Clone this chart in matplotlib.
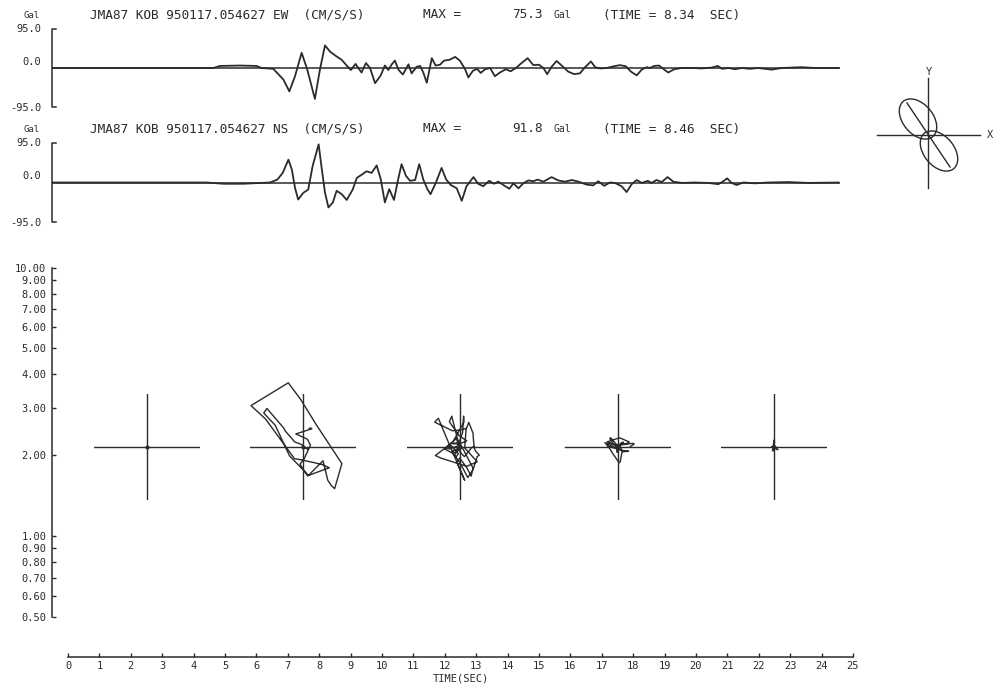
import numpy as np
import matplotlib.pyplot as plt
from matplotlib.patches import Ellipse

INK = '#2b2b2b'
plt.rcParams['font.family'] = 'DejaVu Sans Mono'

# EW acceleration trace (Gal)
ew_t = [0, 5.12, 5.33, 5.96, 6.49, 6.65, 7.02, 7.34, 7.53, 7.71, 7.92, 8.10, 8.34, 8.50,
        8.66, 8.82, 9.03, 9.19, 9.35, 9.48, 9.63, 9.82, 9.96, 10.09, 10.25, 10.43, 10.56,
        10.67, 10.78, 10.88, 10.99, 11.13, 11.31, 11.41, 11.57, 11.68, 11.78, 11.89, 12.05,
        12.17, 12.31, 12.44, 12.61, 12.79, 12.94, 13.10, 13.21, 13.35, 13.49, 13.60, 13.74,
        13.90, 14.05, 14.21, 14.40, 14.55, 14.72, 14.85, 15.09, 15.27, 15.45, 15.59, 15.71,
        15.85, 16.01, 16.17, 16.38, 16.57, 16.75, 16.91, 17.10, 17.23, 17.39, 17.60, 17.81,
        18.02, 18.21, 18.37, 18.55, 18.71, 18.87, 18.97, 19.11, 19.26, 19.39, 19.55, 19.74,
        19.98, 20.29, 20.61, 20.93, 21.12, 21.26, 21.46, 21.67, 21.88, 22.14, 22.41, 22.83,
        23.15, 23.78, 24.21, 24.95]
ew_a = [0, 0, 5, 6, 5, 0, -2, -28, -57, -20, 37, -4, -75.3, -4,
        55, 40, 28, 20, 6, -5, 10, -11, 12, 0, -37, -18, 6,
        -5, 9, 18, -4, -16, 9, -13, 3, 5, -11, -36, 24,
        6, 8, 18, 20, 27, 18, -2, -23, -7, -2, -12, -3,
        0, -20, -11, -3, -8, 0, 9, 24, 7, 8, 0, -15,
        3, 17, 6, -9, -15, -13, 2, 16, 2, -1, 0, 4,
        7, 4, -9, -18, -4, 2, 0, 5, 6, -2, -11, -3,
        0, 0, -1, 1, 5, -2, 0, -3, 0, -2, 0, -4,
        0, 2, 0, 0]

# NS acceleration trace (Gal)
ns_t = [0, 4.90, 5.43, 6.07, 6.92, 7.15, 7.32, 7.50, 7.61, 7.71, 7.81, 7.97, 8.13, 8.27,
        8.46, 8.56, 8.66, 8.77, 8.91, 9.03, 9.19, 9.35, 9.54, 9.67, 9.83, 9.98, 10.14,
        10.30, 10.43, 10.56, 10.70, 10.85, 10.96, 11.09, 11.23, 11.36, 11.52, 11.65, 11.78,
        11.91, 12.01, 12.18, 12.36, 12.50, 12.65, 12.84, 13.00, 13.15, 13.37, 13.52, 13.68,
        13.87, 14.02, 14.16, 14.32, 14.51, 14.64, 14.80, 14.95, 15.11, 15.27, 15.41, 15.59,
        15.85, 16.06, 16.28, 16.49, 16.70, 16.96, 17.17, 17.33, 17.52, 17.70, 17.86, 18.07,
        18.23, 18.39, 18.55, 18.71, 18.90, 19.02, 19.18, 19.34, 19.53, 19.71, 19.98, 20.40,
        20.82, 21.14, 21.30, 21.42, 21.56, 21.72, 21.93, 22.30, 22.73, 23.36, 24.00, 24.95]
ns_a = [0, 0, -3, -3, 0, 7, 23, 55, 31, -13, -41, -25, -17, 40,
        91.8, 32, -24, -60, -48, -20, -28, -42, -17, 11, 19, 27, 23,
        41, 8, -48, -16, -42, 0, 44, 16, 4, 6, 44, 7,
        -16, -28, 0, 35, 8, -6, -14, -44, -9, 13, -3, -9,
        4, -3, 2, -6, -15, -2, -14, -2, 5, 3, 7, 2,
        13, 5, 2, 6, 2, -5, -7, 3, -8, 0, -1, -9,
        -23, -4, 6, -1, 4, -1, 6, 1, 13, 2, -1, 0,
        -1, -4, 3, 10, -1, -6, 0, -2, 0, 1, -1, 0]

windows = [(0, 5), (5, 10), (10, 15), (15, 20), (20, 25)]
cross_level = 2.15
yticks_log = [0.5, 0.6, 0.7, 0.8, 0.9, 1, 2, 3, 4, 5, 6, 7, 8, 9, 10]

# principal-direction sketch on the right (pixel units)
lobe_centers = [(-10, 16), (11, -16)]
lobe_axes = (46, 30)
lobe_angle = -50
axis_line = [(-21, 32), (22, -32)]

W, H = 995, 688
fig = plt.figure(figsize=(W / 100, H / 100), dpi=100)
PT = 72 / 100  # points per pixel


def fx(px):
    return px / W


def fy(py):
    return 1 - py / H


def trace_axes(top, bottom, t, a, comp, amax, tmax):
    ax = fig.add_axes([fx(52), fy(bottom), 788 / W, (bottom - top) / H])
    ax.set_xlim(0, 25)
    ax.set_ylim(-95, 95)
    ax.axis('off')
    ax.plot([0, 25], [0, 0], color=INK, lw=1.1)
    ax.plot(t, a, color=INK, lw=1.3)
    # bracket axis
    ax.plot([0.12, 0, 0, 0.12], [95, 95, -95, -95], color=INK, lw=1.1, clip_on=False)
    fig.text(fx(41), fy(top), '95.0', ha='right', va='center', fontsize=7.5, color=INK)
    fig.text(fx(41), fy(top + 33), '0.0', ha='right', va='center', fontsize=7.5, color=INK)
    fig.text(fx(41), fy(bottom + 1), '-95.0', ha='right', va='center', fontsize=7.5, color=INK)
    hy = top - 14
    fig.text(fx(40), fy(hy), 'Gal', ha='right', va='center', fontsize=6.5, color=INK)
    fig.text(fx(90), fy(hy), 'JMA87 KOB 950117.054627 %s  (CM/S/S)' % comp,
             va='center', fontsize=9.2, color=INK)
    fig.text(fx(423), fy(hy), 'MAX =', va='center', fontsize=9.2, color=INK)
    fig.text(fx(543), fy(hy), '%.1f' % amax, ha='right', va='center', fontsize=9.2, color=INK)
    fig.text(fx(553), fy(hy), 'Gal', va='center', fontsize=7, color=INK)
    fig.text(fx(603), fy(hy), '(TIME = %.2f  SEC)' % tmax, va='center', fontsize=9.2, color=INK)
    return ax


trace_axes(29, 107, ew_t, ew_a, 'EW', 75.3, 8.34)
trace_axes(143, 222, ns_t, ns_a, 'NS', 91.8, 8.46)

# lower panel: orbits on log axis
ax = fig.add_axes([fx(68), fy(617), 785 / W, (617 - 267.5) / H])
ax.set_yscale('log')
ax.set_xlim(0, 25)
ax.set_ylim(0.5, 10)
for s in ['top', 'right']:
    ax.spines[s].set_visible(False)
ax.spines['left'].set_position(('outward', 16 * PT))
ax.spines['bottom'].set_position(('outward', 40 * PT))
ax.spines['bottom'].set_bounds(0, 25)
for s in ['left', 'bottom']:
    ax.spines[s].set_color(INK)
    ax.spines[s].set_linewidth(1.1)
ax.set_yticks(yticks_log)
ax.set_yticklabels(['%.2f' % v for v in yticks_log])
ax.minorticks_off()
ax.set_xticks(range(26))
ax.set_xticklabels([str(i) for i in range(26)])
ax.tick_params(direction='in', length=3, width=1, colors=INK, labelsize=7.5, pad=3)
ax.tick_params(axis='y', pad=4)
ax.set_xlabel('TIME(SEC)', fontsize=7.5, color=INK, labelpad=2)

inv = fig.transFigure.inverted()
half = 53
for t0, t1 in windows:
    c = inv.transform(ax.transData.transform(((t0 + t1) / 2, cross_level)))
    ia = fig.add_axes([c[0] - half / W, c[1] - half / H, 2 * half / W, 2 * half / H])
    ia.axis('off')
    ia.set_xlim(-76, 76)
    ia.set_ylim(-76, 76)
    ia.plot([-76, 76], [0, 0], color=INK, lw=1.0)
    ia.plot([0, 0], [-76, 76], color=INK, lw=1.0)
    tt = np.unique(np.concatenate([ew_t, ns_t, [t0, t1]]))
    tt = tt[(tt >= t0) & (tt <= t1)]
    ex = np.interp(tt, ew_t, ew_a)
    ny = np.interp(tt, ns_t, ns_a)
    ia.plot(ex, ny, color=INK, lw=1.0, clip_on=False)
    ia.plot([0], [0], 'o', ms=2, color=INK)

# right-hand direction sketch
cx, cy = 928, 135
ra = fig.add_axes([fx(cx - 60), fy(cy + 60), 120 / W, 120 / H])
ra.axis('off')
ra.set_xlim(-60, 60)
ra.set_ylim(-60, 60)
ra.plot([-51, 52], [0, 0], color=INK, lw=1.0)
ra.plot([0, 0], [-53, 57], color=INK, lw=1.0)
for c in lobe_centers:
    ra.add_patch(Ellipse(c, lobe_axes[0], lobe_axes[1], angle=lobe_angle,
                         fill=False, ec=INK, lw=1.0))
ra.plot([p[0] for p in axis_line], [p[1] for p in axis_line], color=INK, lw=1.0)
fig.text(fx(929), fy(72), 'Y', ha='center', va='center', fontsize=7.5, color=INK)
fig.text(fx(990), fy(135), 'X', ha='center', va='center', fontsize=7.5, color=INK)

fig.savefig('out.png', dpi=100)
